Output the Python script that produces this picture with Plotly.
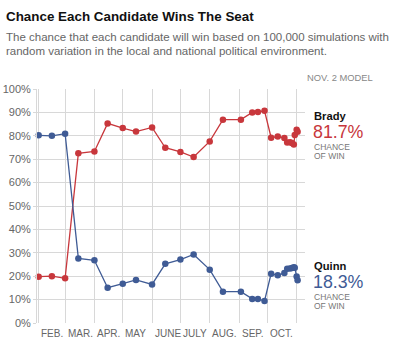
import plotly.graph_objects as go

dates = ["2014-02-01", "2014-02-15", "2014-03-01", "2014-03-15", "2014-04-01", "2014-04-15",
         "2014-05-01", "2014-05-15", "2014-06-01", "2014-06-15", "2014-07-01", "2014-07-15",
         "2014-08-01", "2014-08-15", "2014-09-03", "2014-09-15", "2014-09-21", "2014-09-28",
         "2014-10-05", "2014-10-12", "2014-10-19", "2014-10-22", "2014-10-25", "2014-10-27",
         "2014-10-29", "2014-10-30", "2014-11-01", "2014-11-02"]
brady = [19.8, 20.0, 19.1, 72.5, 73.3, 85.3, 83.3, 81.8, 83.6, 74.9, 73.1, 70.9,
         77.6, 86.9, 86.9, 90.0, 90.2, 90.7, 79.2, 79.7, 79.1, 77.1, 77.2, 76.9,
         76.3, 80.3, 82.6, 81.7]
quinn = [80.2, 80.0, 80.9, 27.6, 26.8, 15.1, 16.8, 18.4, 16.5, 25.3, 27.1, 29.3,
         22.8, 13.4, 13.4, 10.3, 10.3, 9.4, 21.1, 20.4, 21.4, 23.2, 23.3, 23.5,
         23.8, 23.6, 19.9, 18.3]
month_starts = ["2014-02-01", "2014-03-01", "2014-04-01", "2014-05-01", "2014-06-01",
                "2014-07-01", "2014-08-01", "2014-09-01", "2014-10-01"]
month_labels = ["FEB.", "MAR.", "APR.", "MAY", "JUNE", "JULY", "AUG.", "SEP.", "OCT."]
y_ticks = list(range(0, 101, 10))
y_ticktext = [f"{v}%" for v in y_ticks]

RED = "#c8373c"
BLUE = "#3f5b95"
FONT = "Liberation Sans, Arial, sans-serif"

W, H = 395, 358
L, R, T, B = 37.3, 305.0, 89.3, 323.3
pw, ph = R - L, B - T


def px(x):
    return (x - L) / pw


def py(y):
    return (B - y) / ph


fig = go.Figure()
fig.add_trace(go.Scatter(x=dates, y=brady, mode="lines+markers", name="Brady",
                         line=dict(color=RED, width=1.3),
                         marker=dict(color=RED, size=6.5), cliponaxis=False))
fig.add_trace(go.Scatter(x=dates, y=quinn, mode="lines+markers", name="Quinn",
                         line=dict(color=BLUE, width=1.3),
                         marker=dict(color=BLUE, size=6.5), cliponaxis=False))

ann = []
ann.append(dict(text="<b>Chance Each Candidate Wins The Seat</b>", x=px(4), y=py(17),
                xref="paper", yref="paper", xanchor="left", yanchor="middle",
                showarrow=False, font=dict(family=FONT, size=13.4, color="#111")))
ann.append(dict(text="The chance that each candidate will win based on 100,000 simulations with",
                x=px(4), y=py(37.5), xref="paper", yref="paper", xanchor="left",
                yanchor="middle", showarrow=False,
                font=dict(family=FONT, size=11.5, color="#666")))
ann.append(dict(text="random variation in the local and national political environment.",
                x=px(4), y=py(51.5), xref="paper", yref="paper", xanchor="left",
                yanchor="middle", showarrow=False,
                font=dict(family=FONT, size=11.5, color="#666")))
ann.append(dict(text="NOV. 2 MODEL", x=px(375), y=py(78), xref="paper", yref="paper",
                xanchor="right", yanchor="middle", showarrow=False,
                font=dict(family=FONT, size=9.4, color="#888")))

for d, lab in zip(month_starts, month_labels):
    ann.append(dict(text=lab, x=d, y=py(333.5), xref="x", yref="paper",
                    xanchor="left", yanchor="middle", showarrow=False, xshift=0.5,
                    font=dict(family=FONT, size=10, color="#666")))

for name, vals, col, dy in [("Brady", brady, RED, 0), ("Quinn", quinn, BLUE, 1.5)]:
    last = vals[-1]
    ann.append(dict(text=f"<b>{name}</b>", x=px(311.5), y=last, xref="paper", yref="y",
                    xanchor="left", yanchor="middle", showarrow=False, yshift=16 - dy,
                    font=dict(family=FONT, size=11.2, color="#111")))
    ann.append(dict(text=f"{last:.1f}%", x=px(310.8), y=last, xref="paper", yref="y",
                    xanchor="left", yanchor="middle", showarrow=False, yshift=-dy,
                    font=dict(family=FONT, size=17.8, color=col)))
    ann.append(dict(text="CHANCE", x=px(311.5), y=last, xref="paper", yref="y",
                    xanchor="left", yanchor="middle", showarrow=False, yshift=-15 - dy,
                    font=dict(family=FONT, size=8.5, color="#777")))
    ann.append(dict(text="OF WIN", x=px(311.5), y=last, xref="paper", yref="y",
                    xanchor="left", yanchor="middle", showarrow=False, yshift=-24 - dy,
                    font=dict(family=FONT, size=8.5, color="#777")))

fig.update_layout(
    width=W, height=H,
    margin=dict(l=L, r=W - R, t=T, b=H - B, pad=0, autoexpand=False),
    paper_bgcolor="white", plot_bgcolor="white",
    showlegend=False,
    annotations=ann,
    font=dict(family=FONT),
    xaxis=dict(type="date", range=["2014-01-30 06:00", "2014-11-09 20:00"],
               tickmode="array", tickvals=month_starts + ["2014-11-01"],
               showticklabels=False, showgrid=True, gridcolor="#d8d8d8", gridwidth=1,
               zeroline=False, showline=False, ticks="", automargin=False),
    yaxis=dict(range=[0, 100], tickmode="array", tickvals=y_ticks, ticktext=y_ticktext,
               showgrid=True, gridcolor="#d8d8d8", gridwidth=1, zeroline=False,
               showline=True, linecolor="#d8d8d8", linewidth=1,
               ticks="outside", ticklen=3, tickcolor="#d8d8d8", automargin=False,
               tickfont=dict(family=FONT, size=11, color="#666")),
)

fig.write_html("out.html", config={"displayModeBar": False},
               post_script="document.body.style.margin='0';document.body.style.padding='0';")
